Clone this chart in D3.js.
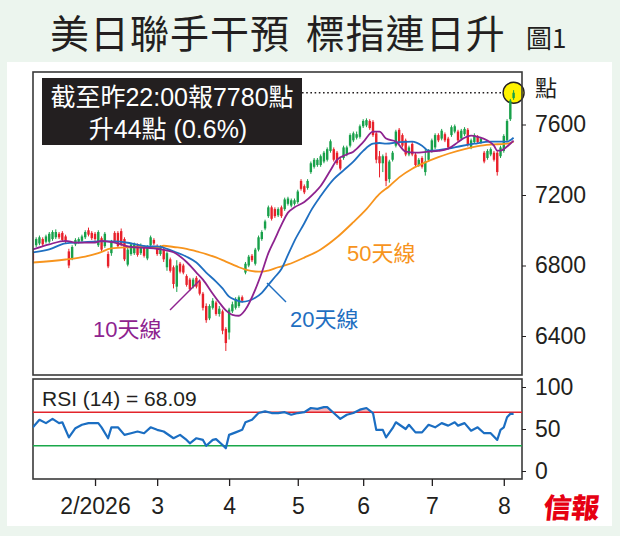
<!DOCTYPE html>
<html>
<head>
<meta charset="utf-8">
<script src="https://cdn.jsdelivr.net/npm/d3@7"></script>
<style>
body{margin:0;background:#ecf5ee}
svg{display:block}
text{font-family:"Liberation Sans","Noto Sans CJK TC",sans-serif}
</style>
</head>
<body>
<svg id="chart" width="620" height="536"></svg>
<script>
// one row per trading day from 5 Jan 2026: [open, close, high, low]
const candles = [
 [6880,6830,6895,6815],[6915,6950,6960,6905],[6925,6960,6970,6915],[6950,6920,6960,6910],
 [6935,6965,6975,6925],[6935,6980,6990,6925],[6950,6990,7000,6940],[6960,6990,7005,6950],
 [6980,6960,6990,6950],[6985,6945,6995,6935],[6965,6935,6975,6925],[6880,6800,6895,6785],
 [6840,6905,6915,6830],[6920,6945,6955,6910],[6935,6950,6960,6925],[6940,6965,6975,6930],
 [6960,6990,7000,6950],[7000,6975,7015,6965],[6985,6955,6995,6945],[6980,6950,6990,6940],
 [6915,6990,7000,6905],[6955,6890,6965,6880],[6910,6980,6990,6900],[6865,6795,6880,6785],
 [6870,6935,6945,6855],[6985,6940,6995,6930],[6985,6910,6995,6900],[6995,6920,7010,6910],
 [6950,6835,6960,6825],[6805,6890,6900,6795],[6865,6920,6930,6855],[6870,6920,6930,6860],
 [6915,6860,6925,6850],[6870,6915,6925,6860],[6905,6855,6915,6845],[6840,6905,6915,6830],
 [6915,6960,6970,6905],[6945,6925,6955,6915],[6910,6865,6920,6855],[6865,6905,6915,6855],
 [6890,6835,6900,6820],[6790,6870,6880,6770],[6835,6770,6845,6760],[6790,6695,6800,6670],
 [6680,6800,6830,6650],[6810,6765,6820,6755],[6800,6760,6810,6750],[6740,6690,6750,6680],
 [6720,6665,6730,6655],[6680,6720,6730,6670],[6730,6680,6740,6670],[6710,6640,6720,6630],
 [6640,6560,6650,6545],[6570,6490,6585,6475],[6500,6570,6580,6490],[6560,6600,6615,6550],
 [6590,6525,6600,6515],[6525,6555,6570,6510],[6540,6430,6550,6410],[6440,6360,6450,6315],
 [6420,6550,6560,6380],[6540,6580,6595,6530],[6560,6610,6620,6550],[6570,6620,6630,6560],
 [6620,6600,6630,6590],[6760,6810,6820,6750],[6800,6850,6860,6790],[6855,6830,6865,6820],
 [6810,6890,6900,6800],[6890,6960,6970,6880],[6950,6990,7000,6940],[7010,7050,7060,7000],
 [7080,7130,7140,7070],[7130,7065,7140,7055],[7120,7080,7130,7070],[7085,7120,7130,7075],
 [7130,7080,7140,7070],[7120,7175,7185,7110],[7150,7180,7190,7140],[7140,7170,7180,7130],
 [7150,7170,7180,7140],[7160,7220,7230,7150],[7280,7235,7290,7225],[7250,7215,7260,7205],
 [7240,7280,7290,7230],[7330,7380,7390,7320],[7360,7400,7410,7350],[7370,7400,7410,7360],
 [7370,7420,7430,7360],[7390,7440,7450,7380],[7400,7460,7470,7390],[7450,7505,7515,7440],
 [7460,7400,7470,7390],[7440,7380,7450,7370],[7400,7350,7410,7340],[7410,7470,7480,7400],
 [7430,7470,7480,7420],[7480,7540,7550,7470],[7510,7550,7560,7500],[7525,7545,7560,7515],
 [7530,7590,7600,7520],[7590,7620,7630,7580],[7595,7625,7635,7585],[7620,7580,7630,7570],
 [7615,7540,7625,7530],[7550,7400,7560,7380],[7420,7380,7450,7300],[7380,7420,7430,7330],
 [7420,7280,7440,7250],[7290,7390,7400,7270],[7400,7440,7450,7390],[7480,7560,7570,7470],
 [7570,7500,7580,7490],[7540,7480,7550,7470],[7510,7430,7520,7420],[7430,7470,7480,7420],
 [7490,7430,7500,7420],[7430,7370,7440,7360],[7370,7400,7410,7360],[7410,7360,7420,7350],
 [7330,7390,7460,7310],[7400,7450,7460,7390],[7450,7510,7520,7440],[7470,7540,7550,7460],
 [7540,7510,7550,7500],[7520,7565,7575,7510],[7545,7510,7555,7500],[7520,7470,7530,7460],
 [7540,7585,7595,7530],[7560,7590,7600,7550],[7560,7510,7570,7500],[7520,7565,7575,7510],
 [7545,7575,7585,7535],[7570,7485,7580,7475],[7470,7510,7520,7460],[7500,7540,7550,7490],
 [7530,7500,7540,7490],[7500,7520,7530,7490],[7440,7390,7450,7380],[7410,7450,7460,7400],
 [7430,7460,7470,7420],[7440,7400,7450,7390],[7440,7330,7450,7310],[7420,7470,7480,7410],
 [7450,7535,7545,7440],[7510,7620,7630,7500],[7630,7736,7745,7620],[7750,7780,7795,7740]
]

// moving averages: [trading day, level]
const ma10 = [[0,6891],[5,6920],[10,6940],[13,6930],[19,6930],[21,6940],[25,6930],[30,6905],
 [35,6900],[38,6895],[43,6875],[47,6820],[50,6760],[52,6720],[55,6640],[57,6590],[59,6545],
 [61,6520],[63,6515],[65,6550],[68,6663],[70,6760],[72,6870],[74,6950],[76,7030],[78,7100],
 [80,7130],[83,7160],[86,7210],[88,7251],[91,7340],[93,7400],[96,7430],[98,7446],[101,7500],
 [104,7560],[106,7560],[108,7520],[111,7503],[114,7446],[117,7440],[121,7446],[124,7450],
 [127,7463],[130,7500],[132,7525],[134,7537],[136,7530],[139,7509],[141,7480],[142,7452],
 [143,7452],[145,7475],[147,7509]]
const ma20 = [[0,6874],[5,6891],[10,6926],[15,6931],[20,6937],[25,6937],[30,6926],[35,6909],
 [38,6909],[43,6880],[47,6850],[50,6817],[53,6760],[56,6709],[58,6670],[60,6623],[62,6605],
 [64,6594],[66,6600],[68,6617],[70,6645],[72,6690],[74,6735],[76,6780],[78,6860],[80,6940],
 [83,7040],[85,7110],[88,7194],[92,7290],[95,7340],[98,7389],[101,7450],[104,7491],[106,7495],
 [108,7491],[112,7500],[116,7503],[119,7480],[121,7451],[124,7455],[127,7463],[131,7478],
 [135,7491],[140,7503],[145,7503],[147,7525]]
const ma50 = [[0,6817],[10,6834],[16,6851],[20,6870],[24,6897],[29,6903],[34,6905],[38,6903],
 [40,6912],[43,6905],[47,6895],[50,6880],[53,6865],[56,6846],[59,6822],[61,6806],[63,6790],
 [65,6777],[68,6766],[70,6765],[72,6771],[75,6790],[78,6806],[83,6845],[88,6891],[93,6960],
 [98,7046],[102,7120],[106,7206],[109,7250],[112,7300],[116,7349],[120,7385],[124,7415],
 [127,7434],[132,7460],[137,7480],[142,7488],[145,7491],[147,7503]]

// RSI(14): [trading day, value]
const rsi = [[0,52],[2,61],[4,57],[6,62],[8,57],[9,58],[11,40],[13,51],[15,55],[17,57],[20,57],
 [21,52],[23,39],[24,52],[26,52],[28,43],[30,45],[32,47],[34,45],[36,52],[38,49],[40,47],
 [43,39],[45,43],[47,37],[48,33],[50,39],[52,37],[53,30],[55,37],[56,38],[58,31],[59,27],
 [60,43],[62,46],[64,49],[65,58],[67,61],[69,69],[71,71],[73,69],[75,69],[77,70],[79,67],
 [81,69],[83,70],[85,75],[87,74],[89,76],[90,76],[92,69],[94,62],[96,67],[98,69],[100,73],
 [102,75],[104,69],[105,49],[107,49],[108,40],[110,51],[111,58],[114,50],[115,55],[117,46],
 [119,46],[121,55],[123,52],[125,57],[127,54],[129,58],[130,54],[132,57],[134,48],[136,52],
 [138,45],[140,45],[142,37],[143,49],[144,52],[145,64],[146,68],[147,68.09]]

const monthDay = [19,38,60,81,101,122,144]
const monthLabel = ["2/2026","3","4","5","6","7","8"]
const priceTicks = [6400,6800,7200,7600]
const rsiTicks = [0,50,100]
const lastPrice = 7780
const rsiHigh = 70, rsiLow = 30

const up = "#18a04a", down = "#e8202a"
const ink = "#231f20"

let svg = d3.select("#chart")
let defs = svg.append("defs")

svg.append("rect").attr("width",620).attr("height",536).attr("fill","#ecf5ee")
svg.append("rect").attr("x",7).attr("y",62).attr("width",605).attr("height",464).attr("fill","#fff")

// title
svg.append("text").attr("x",50).attr("y",48)
  .style("font-family","'Noto Sans CJK TC'").style("font-size","39px").style("font-weight",400)
  .style("letter-spacing","1px").style("word-spacing","6px")
  .attr("fill",ink).text("美日聯手干預 標指連日升")
svg.append("text").attr("x",526).attr("y",48)
  .style("font-family","'Noto Sans CJK TC'").style("font-size","26px").style("font-weight",400)
  .attr("fill",ink).text("圖1")

// scales
let x = d3.scaleLinear().domain([0,candles.length-1]).range([32.9,513.6])
let y = d3.scaleLinear().domain([6400,7600]).range([336,124.5])
let yr = d3.scaleLinear().domain([0,100]).range([471,387])

defs.append("clipPath").attr("id","clipMain")
  .append("rect").attr("x",33).attr("y",72).attr("width",489).attr("height",303)
defs.append("clipPath").attr("id","clipRsi")
  .append("rect").attr("x",33).attr("y",379).attr("width",489).attr("height",100)
defs.append("clipPath").attr("id","clipOver")
  .append("rect").attr("x",33).attr("y",379).attr("width",489).attr("height",yr(rsiHigh)-379)

// dotted line and marker for the latest level
svg.append("line").attr("x1",302).attr("x2",x(candles.length-1)-10)
  .attr("y1",y(lastPrice)).attr("y2",y(lastPrice))
  .attr("stroke",ink).attr("stroke-width",1.6).attr("stroke-dasharray","1.6 2.6")
svg.append("circle").attr("cx",x(candles.length-1)).attr("cy",y(lastPrice)).attr("r",10.5)
  .attr("fill","#fff200").attr("stroke",ink).attr("stroke-width",1.4)

// candles
let cg = svg.append("g").attr("clip-path","url(#clipMain)")
cg.selectAll(".wick").data(candles).join("line").attr("class","wick")
  .attr("x1",(d,i)=>x(i)).attr("x2",(d,i)=>x(i))
  .attr("y1",d=>y(d[2])).attr("y2",d=>y(d[3]))
  .attr("stroke",d=>d[1]>=d[0]?up:down).attr("stroke-width",1)
cg.selectAll(".body").data(candles).join("rect").attr("class","body")
  .attr("x",(d,i)=>x(i)-1.2).attr("width",2.4)
  .attr("y",d=>y(Math.max(d[0],d[1])))
  .attr("height",d=>Math.max(1,Math.abs(y(d[0])-y(d[1]))))
  .attr("fill",d=>d[1]>=d[0]?up:down)

// moving averages
let maLine = d3.line().x(d=>x(d[0])).y(d=>y(d[1])).curve(d3.curveMonotoneX)
let maG = svg.append("g").attr("clip-path","url(#clipMain)").attr("fill","none")
maG.append("path").attr("d",maLine(ma50)).attr("stroke","#f7941d").attr("stroke-width",1.8)
maG.append("path").attr("d",maLine(ma20)).attr("stroke","#1f6fc1").attr("stroke-width",1.8)
maG.append("path").attr("d",maLine(ma10)).attr("stroke","#8e238f").attr("stroke-width",1.8)

// labels of the averages
svg.append("line").attr("x1",170).attr("y1",310).attr("x2",200).attr("y2",280)
  .attr("stroke","#8e238f").attr("stroke-width",1.5)
svg.append("line").attr("x1",267).attr("y1",283).attr("x2",286).attr("y2",302)
  .attr("stroke","#1f6fc1").attr("stroke-width",1.5)
svg.append("text").attr("x",93).attr("y",337).style("font-size","22px").attr("fill","#8e238f").text("10天線")
svg.append("text").attr("x",290).attr("y",327).style("font-size","22px").attr("fill","#1f6fc1").text("20天線")
svg.append("text").attr("x",347).attr("y",261).style("font-size","22px").attr("fill","#f7941d").text("50天線")

// info box
svg.append("rect").attr("x",42).attr("y",78).attr("width",260).attr("height",67).attr("fill",ink)
svg.append("text").attr("x",172).attr("y",106).attr("text-anchor","middle")
  .style("font-size","25px").attr("fill","#fff").text("截至昨22:00報7780點")
svg.append("text").attr("x",168).attr("y",138).attr("text-anchor","middle")
  .style("font-size","25px").attr("fill","#fff").text("升44點 (0.6%)")

// frames
svg.append("rect").attr("x",33).attr("y",72).attr("width",489).attr("height",303)
  .attr("fill","none").attr("stroke","#3a3a3a").attr("stroke-width",1.6)
svg.append("rect").attr("x",33).attr("y",379).attr("width",489).attr("height",100)
  .attr("fill","none").attr("stroke","#3a3a3a").attr("stroke-width",1.6)

// price axis
let pAxis = svg.append("g").attr("transform","translate(522,0)")
  .call(d3.axisRight(y).tickValues(priceTicks).tickFormat(d3.format("d")).tickSize(4).tickPadding(9))
pAxis.select(".domain").remove()
pAxis.selectAll("line").attr("stroke",ink)
pAxis.selectAll("text").style("font-size","23px").attr("fill",ink)
svg.append("text").attr("x",535).attr("y",96)
  .style("font-family","'Noto Sans CJK TC'").style("font-size","22px").attr("fill",ink).text("點")

// RSI panel
let rg = svg.append("g").attr("clip-path","url(#clipRsi)")
rg.append("path").datum(rsi).attr("clip-path","url(#clipOver)")
  .attr("d",d3.area().x(d=>x(d[0])).y0(yr(rsiHigh)).y1(d=>yr(d[1])))
  .attr("fill","#f6b9bd")
rg.append("line").attr("x1",33).attr("x2",522).attr("y1",yr(rsiHigh)).attr("y2",yr(rsiHigh))
  .attr("stroke","#e3242b").attr("stroke-width",1.4)
rg.append("line").attr("x1",33).attr("x2",522).attr("y1",yr(rsiLow)).attr("y2",yr(rsiLow))
  .attr("stroke","#1aa84a").attr("stroke-width",1.4)
rg.append("path").datum(rsi).attr("fill","none").attr("stroke","#1b6ec2").attr("stroke-width",2.2)
  .attr("stroke-linejoin","round")
  .attr("d",d3.line().x(d=>x(d[0])).y(d=>yr(d[1])))
svg.append("text").attr("x",42).attr("y",406).style("font-size","21px").attr("fill",ink)
  .text("RSI (14) = 68.09")

let rAxis = svg.append("g").attr("transform","translate(522,0)")
  .call(d3.axisRight(yr).tickValues(rsiTicks).tickSize(4).tickPadding(9))
rAxis.select(".domain").remove()
rAxis.selectAll("line").attr("stroke",ink)
rAxis.selectAll("text").style("font-size","23px").attr("fill",ink)

// month axis
let xAxis = svg.append("g").attr("transform","translate(0,479)")
  .call(d3.axisBottom(x).tickValues(monthDay).tickFormat((d,i)=>monthLabel[i]).tickSize(7).tickPadding(12))
xAxis.select(".domain").remove()
xAxis.selectAll("line").attr("stroke",ink).attr("stroke-width",1.3)
xAxis.selectAll("text").style("font-size","23px").attr("fill",ink)

// masthead
svg.append("text").attr("x",571).attr("y",518).attr("text-anchor","middle")
  .attr("transform","skewX(-6) translate(54,0)")
  .style("font-family","'Noto Sans CJK TC'").style("font-size","28px").style("font-weight",900)
  .attr("fill","#e60012").text("信報")
</script>
</body>
</html>
